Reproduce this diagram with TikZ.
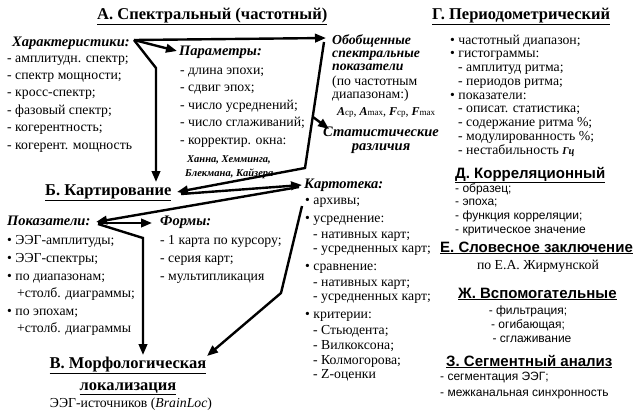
\documentclass[tikz,border=0pt]{standalone}
\usepackage{fontspec}
\setmainfont{Liberation Serif}
\setsansfont{Liberation Sans}
\usetikzlibrary{arrows.meta,calc}
\tikzset{
  base/.style={inner sep=0pt, anchor=base west},
  txt/.style={base, font=\fontsize{13.75}{15}\selectfont},
  hd/.style={base, font=\fontsize{16.5}{18}\selectfont\bfseries},
  shd/.style={base, font=\fontsize{15}{18}\selectfont\sffamily\bfseries},
  stxt/.style={base, font=\fontsize{12}{14}\selectfont\sffamily},
  bi/.style={base, font=\fontsize{14.5}{16}\selectfont\bfseries\itshape},
  obi/.style={base, font=\fontsize{13.75}{15}\selectfont\bfseries\itshape},
  sbi/.style={base, font=\fontsize{10.5}{11}\selectfont\bfseries\itshape},
  arr/.style={line width=2.4pt, line join=miter, -{Triangle[length=11pt,width=8.5pt]}},
}
\begin{document}
\begin{tikzpicture}[x=1pt,y=-1pt]
\useasboundingbox (0,0) rectangle (636,413);
% ---------- A
\node[hd] (hA) at (97,19) {\underline{А. Спектральный (частотный)}};
\node[bi] (hch) at (12,46) {Характеристики:};
\foreach \t [count=\i] in {{- амплитудн. спектр;},{- спектр мощности;},{- кросс-спектр;},{- фазовый спектр;},{- когерентность;},{- когерент. мощность}}
  \node[txt] (ch\i) at (7,{62+17.4*(\i-1)}) {\t};
\node[bi] (par) at (179,55) {Параметры:};
\foreach \t [count=\i] in {{- длина эпохи;},{- сдвиг эпох;},{- число усреднений;},{- число сглаживаний;},{- корректир. окна:}}
  \node[txt] (pa\i) at (180,{74+17.5*(\i-1)}) {\t};
\node[sbi] (han1) at (187,162) {Ханна, Хемминга,};
\node[sbi] (han2) at (185,176) {Блекмана, Кайзера};
\node[obi] (ob1) at (332,44) {Обобщенные};
\node[obi] (ob2) at (332,57) {спектральные};
\node[obi] (ob3) at (332,70) {показатели};
\node[txt] (ob4) at (332,85) {(по частотным};
\node[txt] (ob5) at (332,98) {диапазонам:)};
\node[base, font=\fontsize{12}{12}\selectfont] (ob6) at (337,115)
  {\textbf{\textit{A}}{\fontsize{9}{9}\selectfont ср}, \textbf{\textit{A}}{\fontsize{9}{9}\selectfont max}, \textbf{\textit{F}}{\fontsize{9}{9}\selectfont ср}, \textbf{\textit{F}}{\fontsize{9}{9}\selectfont max}};
\node[bi, anchor=base] (st1) at (381,136) {Статистические};
\node[bi, anchor=base] (st2) at (381,150) {различия};
% ---------- G
\node[hd] (hG) at (432,19) {\underline{Г. Периодометрический}};
\node[txt] (g1) at (450,44) {\textbullet\ частотный диапазон;};
\node[txt] (g2) at (450,57.75) {\textbullet\ гистограммы:};
\node[txt] (g3) at (458,71.5) {- амплитуд ритма;};
\node[txt] (g4) at (458,85.25) {- периодов ритма;};
\node[txt] (g5) at (450,99) {\textbullet\ показатели:};
\node[txt] (g6) at (458,112.75) {- описат. статистика;};
\node[txt] (g7) at (458,126.5) {- содержание ритма \%;};
\node[txt] (g8) at (458,140.25) {- модулированность \%;};
\node[txt] (g9) at (458,154) {- нестабильность {\fontsize{10.5}{10}\selectfont\bfseries\itshape Гц}};
% ---------- D E Zh Z
\node[shd] (hD) at (455,178) {\underline{Д. Корреляционный}};
\foreach \t [count=\i] in {{- образец;},{- эпоха;},{- функция корреляции;},{- критическое значение}}
  \node[stxt] (d\i) at (455,{192+13.8*(\i-1)}) {\t};
\node[shd] (hE) at (440,252) {\underline{Е. Словесное заключение}};
\node[txt, anchor=base] (e1) at (538,269) {по Е.А. Жирмунской};
\node[shd] (hZh) at (458,298) {\underline{Ж. Вспомогательные}};
\node[stxt, anchor=base] (zh1) at (528,314) {- фильтрация;};
\node[stxt, anchor=base] (zh2) at (528,328) {- огибающая;};
\node[stxt, anchor=base] (zh3) at (532,342) {- сглаживание};
\node[shd] (hZ) at (446,366) {\underline{З. Сегментный анализ}};
\node[stxt] (z1) at (440,380) {- сегментация ЭЭГ;};
\node[stxt] (z2) at (440,396) {- межканальная синхронность};
% ---------- B
\node[hd] (hB) at (45,195) {\underline{Б. Картирование}};
\node[bi] (kt) at (304,188) {Картотека:};
\foreach \x/\y/\t [count=\i] in {305/204/{\textbullet\ архивы;},305/222/{\textbullet\ усреднение:},313/238/{- нативных карт;},313/252/{- усредненных карт;},305/270/{\textbullet\ сравнение:},313/286/{- нативных карт;},313/300/{- усредненных карт;},305/318/{\textbullet\ критерии:},313/334/{- Стьюдента;},313/349/{- Вилкоксона;},313/364/{- Колмогорова;},313/378/{- Z-оценки}}
  \node[txt] (k\i) at (\x,\y) {\t};
\node[bi] (pk) at (7,225) {Показатели:};
\node[txt] (p1) at (7,244) {\textbullet\ ЭЭГ-амплитуды;};
\node[txt] (p2) at (7,262) {\textbullet\ ЭЭГ-спектры;};
\node[txt] (p3) at (7,280) {\textbullet\ по диапазонам;};
\node[txt] (p4) at (17,297) {+столб. диаграммы;};
\node[txt] (p5) at (7,315) {\textbullet\ по эпохам;};
\node[txt] (p6) at (17,332) {+столб. диаграммы};
\node[bi] (fm) at (160,225) {Формы:};
\node[txt] (f1) at (160,244) {- 1 карта по курсору;};
\node[txt] (f2) at (160,262) {- серия карт;};
\node[txt] (f3) at (160,280) {- мультипликация};
% ---------- V
\node[hd, anchor=base] (hV1) at (128,368) {\underline{В. Морфологическая}};
\node[hd, anchor=base] (hV2) at (128,390) {\underline{локализация}};
\node[txt, anchor=base] (v3) at (131,407) {ЭЭГ-источников (\textit{BrainLoc})};
% ---------- connectors
\coordinate (h0) at (134,40);
\coordinate (b1) at (156,68);
\coordinate (o0) at (324,42);
\coordinate (o1) at (305,168);
\coordinate (bE) at (177,192);
\coordinate (kW) at (302,185);
\coordinate (pE) at (96,222);
\coordinate (q1) at (143,238);
\coordinate (r0) at (302,206);
\coordinate (r1) at (281,293);
\coordinate (vT) at (207,356);
\coordinate (s0) at (313,117);
\draw[arr] (h0) -- (326,38);
\draw[arr] (h0) -- (177,51);
\draw[arr] (h0) -- (b1) -- (156,182);
\draw[arr] (s0) -- (329,129);
\draw[arr] (o0) -- (o1) -- (bE);
\draw[arr] ($(bE)+(4,2)$) -- (kW);
\draw[arr] ($(kW)+(-3,2)$) -- (pE);
\draw[arr] ($(pE)+(2,1)$) -- (152,223);
\draw[arr] ($(pE)+(2,2)$) -- (q1) -- (143,355);
\draw[arr] (r0) -- (r1) -- (vT);
\end{tikzpicture}
\end{document}
